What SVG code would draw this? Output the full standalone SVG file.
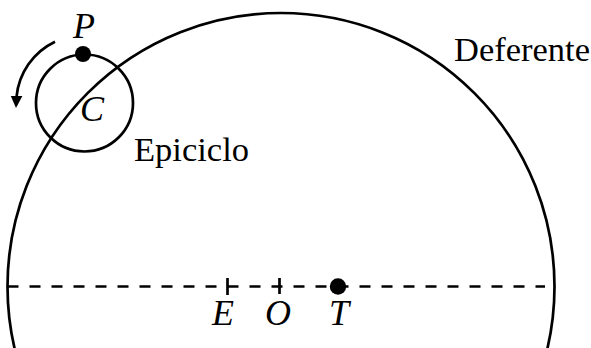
<svg xmlns="http://www.w3.org/2000/svg" width="591" height="348" viewBox="0 0 591 348">
  <style>
    .ln { fill: none; stroke: #000; stroke-width: 2.7; }
    .dash { fill: none; stroke: #000; stroke-width: 2.5; stroke-dasharray: 11 11; }
    .dot { fill: #000; }
    .lbl { font-family: "Liberation Serif", "Times New Roman", serif; font-size: 34px; fill: #000; }
    .math { font-family: "Liberation Serif", "Times New Roman", serif; font-size: 36px; font-style: italic; fill: #000; text-anchor: middle; }
  </style>
  <rect width="591" height="348" fill="#fff"/>
  <g id="deferente">
    <circle class="ln" cx="281" cy="286.5" r="273.5"/>
    <text class="lbl" x="454" y="61" textLength="136" lengthAdjust="spacingAndGlyphs">Deferente</text>
  </g>
  <g id="connectors">
    <line class="dash" x1="7.5" y1="286.5" x2="545" y2="286.5"/>
    <path class="ln" d="M 55 41.7 A 68 68 0 0 0 16.5 97"/>
    <polygon class="dot" points="16,108 10.8,96 22.4,96"/>
  </g>
  <g id="epiciclo">
    <circle class="ln" cx="84.5" cy="103" r="48.5"/>
    <text class="lbl" x="134" y="161" textLength="115" lengthAdjust="spacingAndGlyphs">Epiciclo</text>
  </g>
  <g id="P">
    <circle class="dot" cx="83" cy="54" r="8"/>
    <text class="math" x="84" y="38">P</text>
  </g>
  <g id="C">
    <text class="math" x="92" y="121">C</text>
  </g>
  <g id="E">
    <line class="ln" x1="227.5" y1="278" x2="227.5" y2="295"/>
    <text class="math" x="223" y="325">E</text>
  </g>
  <g id="O">
    <line class="ln" x1="279.5" y1="278" x2="279.5" y2="294"/>
    <text class="math" x="278" y="325">O</text>
  </g>
  <g id="T">
    <circle class="dot" cx="338" cy="286.5" r="8.2"/>
    <text class="math" x="339" y="325">T</text>
  </g>
</svg>
